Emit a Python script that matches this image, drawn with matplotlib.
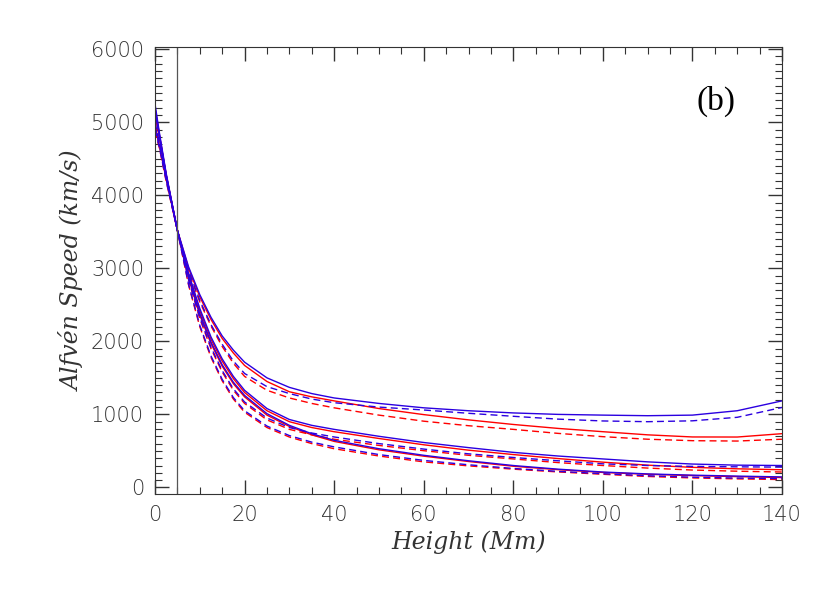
import matplotlib
matplotlib.use("Agg")
import matplotlib.pyplot as plt
from matplotlib.ticker import MultipleLocator

height = [0, 1, 2.5, 5, 7.5, 10, 12.5, 15, 17.5, 20, 25, 30, 35, 40, 50, 60, 70, 80, 90, 100, 110, 120, 130, 140]

# upper group
blue_solid_1 = [5250, 4850, 4300, 3520, 3020, 2640, 2330, 2074, 1880, 1715, 1500, 1370, 1285, 1225, 1150, 1090, 1050, 1020, 1000, 990, 982, 990, 1050, 1185]
red_solid_1  = [5200, 4820, 4280, 3520, 3000, 2610, 2300, 2040, 1840, 1670, 1450, 1310, 1240, 1185, 1080, 997, 925, 862, 808, 763, 720, 691, 690, 736]
blue_dash_1  = [5000, 4700, 4250, 3520, 2970, 2560, 2230, 1960, 1730, 1560, 1380, 1285, 1210, 1160, 1100, 1060, 1015, 974, 935, 910, 900, 912, 960, 1095]
red_dash_1   = [4980, 4690, 4240, 3520, 2950, 2540, 2210, 1930, 1700, 1520, 1330, 1225, 1150, 1090, 990, 907, 845, 795, 740, 695, 660, 640, 635, 660]
# middle group
blue_solid_2 = [5200, 4820, 4280, 3520, 2930, 2450, 2060, 1760, 1520, 1330, 1080, 930, 850, 795, 700, 615, 545, 480, 430, 390, 350, 320, 305, 300]
red_solid_2  = [5150, 4800, 4270, 3520, 2910, 2420, 2030, 1730, 1490, 1300, 1050, 900, 820, 763, 670, 584, 510, 450, 395, 346, 305, 275, 255, 242]
blue_dash_2  = [4950, 4680, 4230, 3520, 2850, 2330, 1920, 1600, 1350, 1170, 950, 820, 745, 691, 600, 525, 460, 410, 365, 323, 300, 288, 282, 278]
red_dash_2   = [4930, 4670, 4220, 3520, 2840, 2310, 1900, 1580, 1330, 1150, 925, 795, 720, 660, 575, 503, 440, 390, 340, 300, 265, 238, 222, 211]
# lower group
blue_solid_3 = [5150, 4800, 4270, 3520, 2880, 2380, 1990, 1680, 1440, 1260, 1010, 850, 735, 645, 530, 440, 365, 300, 250, 211, 185, 168, 155, 144]
red_solid_3  = [5100, 4780, 4260, 3520, 2870, 2360, 1970, 1660, 1420, 1240, 990, 835, 720, 630, 515, 428, 355, 290, 243, 205, 180, 162, 148, 135]
blue_dash_3  = [4900, 4650, 4200, 3520, 2780, 2220, 1800, 1480, 1230, 1050, 840, 710, 620, 555, 450, 370, 310, 260, 220, 188, 160, 140, 128, 121]
red_dash_3   = [4880, 4640, 4190, 3520, 2770, 2200, 1780, 1460, 1210, 1030, 820, 690, 600, 530, 430, 350, 295, 250, 212, 180, 150, 130, 117, 108]

BLUE = "#2b00e0"
RED = "#ff0000"

fig = plt.figure(figsize=(8.30, 5.93), dpi=100)
ax = fig.add_axes([155/830, 1-494/593, 627/830, 447/593])

series = [
    (red_solid_1, RED, "-"), (red_dash_1, RED, "--"),
    (red_solid_2, RED, "-"), (red_dash_2, RED, "--"),
    (red_solid_3, RED, "-"), (red_dash_3, RED, "--"),
    (blue_solid_1, BLUE, "-"), (blue_dash_1, BLUE, "--"),
    (blue_solid_2, BLUE, "-"), (blue_dash_2, BLUE, "--"),
    (blue_solid_3, BLUE, "-"), (blue_dash_3, BLUE, "--"),
]
for vals, c, ls in series:
    if ls == "--":
        ax.plot(height, vals, color=c, lw=1.0, dashes=(5, 3))
    else:
        ax.plot(height, vals, color=c, lw=1.0)

ax.axvline(5, color="#555555", lw=0.9)
ax.set_xlim(0, 140)
ax.set_ylim(-90, 6030)
ax.xaxis.set_major_locator(MultipleLocator(20))
ax.xaxis.set_minor_locator(MultipleLocator(5))
ax.yaxis.set_major_locator(MultipleLocator(1000))
ax.yaxis.set_minor_locator(MultipleLocator(100))
ax.tick_params(which="both", direction="in", top=True, right=True, colors="#333333")
ax.tick_params(which="major", length=10, width=1, labelsize=15, pad=8)
ax.tick_params(which="minor", length=5, width=0.8)
for lab in ax.get_xticklabels() + ax.get_yticklabels():
    lab.set_fontfamily("DejaVu Sans")
    lab.set_fontweight("light")
    lab.set_color("#333333")
for s in ax.spines.values():
    s.set_color("#333333")

ax.set_xlabel("Height (Mm)", fontsize=17, fontstyle="italic", family="DejaVu Serif", color="#333333")
ax.set_ylabel("Alfvén Speed (km/s)", fontsize=17, fontstyle="italic", family="DejaVu Serif", color="#333333")
ax.text(0.895, 0.86, "(b)", transform=ax.transAxes, fontsize=24, family="Liberation Serif", ha="center")

fig.savefig("out.png", dpi=100)
